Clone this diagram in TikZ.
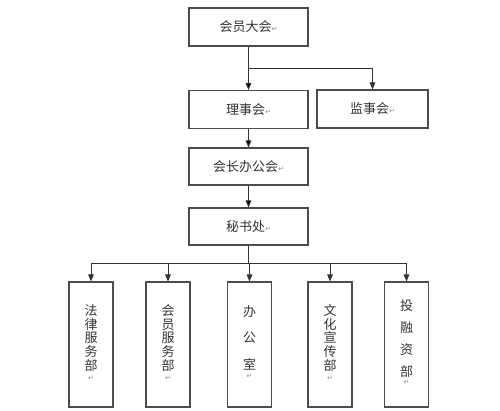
\documentclass[tikz,border=0pt]{standalone}
\usepackage{fontspec}
\newfontfamily\zhfont{Noto Sans CJK SC}
\newfontfamily\symfont{DejaVu Sans}
\usepackage{tikz}
\usetikzlibrary{positioning, arrows.meta}
\usepackage{xcolor}

\newcommand{\pmark}{{\symfont\fontsize{4}{4}\selectfont\color{black!45}↵}}

\begin{document}
\begin{tikzpicture}[x=0.02cm, y=-0.02cm, >={Triangle[length=4pt,width=3.2pt]},
                    box/.style={draw=black!70, line width=0.6pt, inner sep=0pt,
                                font=\zhfont\fontsize{7.4}{9}\selectfont, text=black!80},
                    hbox/.style={box, minimum width=2.38cm, minimum height=0.76cm},
                    vbox/.style={box, minimum width=0.88cm, minimum height=2.5cm, align=center},
                    link/.style={draw=black!80, line width=0.5pt}]

                    \useasboundingbox (0,0) rectangle (500,411);

                    \node[hbox] (dahui) at (248.5,27) {会员大会\pmark};
                    \node[hbox] (lishi) at (248.5,109.5) {理事会\pmark};
                    \node[hbox, minimum width=2.22cm] (jianshi) at (372.5,109) {监事会\pmark};
                    \node[hbox, minimum height=0.74cm] (bangong) at (248.5,166.5) {会长办公会\pmark};
                    \node[hbox, minimum height=0.74cm] (mishu) at (248.5,226.5) {秘书处\pmark};

                    \node[vbox, font=\zhfont\fontsize{7.4}{7.8}\selectfont] (falv) at (91,344.5)
                        {\\[-4pt]法\\律\\服\\务\\部\\[-2pt]\pmark};
                    \node[vbox, font=\zhfont\fontsize{7.4}{7.8}\selectfont] (huiyuan) at (168,344.5)
                        {\\[-4pt]会\\员\\服\\务\\部\\[-2pt]\pmark};
                    \node[vbox, font=\zhfont\fontsize{7.4}{15.2}\selectfont] (bangongshi) at (249.5,344.5)
                        {\\[-12pt]办\\公\\室\\[-10pt]\pmark};
                    \node[vbox, font=\zhfont\fontsize{7.4}{7.8}\selectfont] (wenhua) at (330,344.5)
                        {\\[-4pt]文\\化\\宣\\传\\部\\[-2pt]\pmark};
                    \node[vbox, font=\zhfont\fontsize{7.4}{12.6}\selectfont] (tourong) at (406.5,344.5)
                        {\\[-9pt]投\\融\\资\\部\\[-8pt]\pmark};

                    \coordinate (fen1) at (248.5,68);
                    \coordinate (fen2) at (248.5,263);

                    % top part
                    \path[link, ->] (dahui) edge (lishi);
                    \draw[link, ->] (fen1) -| (jianshi);
                    \path[link, ->] (lishi) edge (bangong)
                                    (bangong) edge (mishu);

                    % departments
                    \draw[link] (mishu) -- (fen2);
                    \foreach \d in {falv, huiyuan, bangongshi, wenhua, tourong}
                        \draw[link, ->] (fen2) -| (\d.north);
                \end{tikzpicture}
\end{document}
